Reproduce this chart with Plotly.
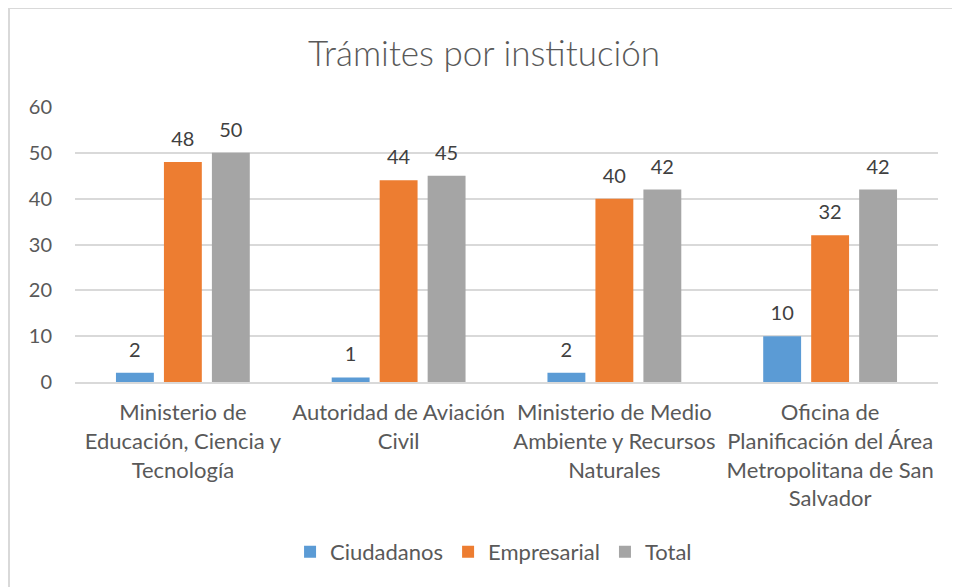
import plotly.graph_objects as go

categorias = [
    "Ministerio de<br>Educación, Ciencia y<br>Tecnología",
    "Autoridad de Aviación<br>Civil",
    "Ministerio de Medio<br>Ambiente y Recursos<br>Naturales",
    "Oficina de<br>Planificación del Área<br>Metropolitana de San<br>Salvador",
]
ciudadanos = [2, 1, 2, 10]
empresarial = [48, 44, 40, 32]
total = [50, 45, 42, 42]

series = [
    ("Ciudadanos", ciudadanos, "#5b9bd5"),
    ("Empresarial", empresarial, "#ed7d31"),
    ("Total", total, "#a5a5a5"),
]

FONT = "Lato, Open Sans, sans-serif"
GAP = 0.333

fig = go.Figure()
for nombre, valores, color in series:
    fig.add_trace(go.Bar(
        x=categorias, y=valores, name=nombre,
        marker=dict(color=color, line=dict(width=0)),
    ))

# value labels: grouped text-only scatters, the invisible marker lifts the text off the bar
for nombre, valores, color in series:
    fig.add_trace(go.Scatter(
        x=categorias, y=valores, mode="markers+text", showlegend=False,
        text=valores, textposition="top center", cliponaxis=False,
        marker=dict(size=16, opacity=0), hoverinfo="skip",
        textfont=dict(size=20, color="#404040", family=FONT),
    ))

# the page body has an 8px margin, so the figure is 8px smaller on each side
fig.update_layout(
    width=952, height=579,
    margin=dict(l=67, r=22, t=99, b=205),
    paper_bgcolor="white", plot_bgcolor="white",
    font=dict(family=FONT, color="#595959", size=20),
    title=dict(text="Trámites por institución", x=0.5, xanchor="center",
               y=0.921, yanchor="middle",
               font=dict(size=35, color="#595959", weight=300)),
    barmode="group", bargap=GAP, bargroupgap=0.21,
    scattermode="group", scattergap=GAP,
    showlegend=True,
    legend=dict(orientation="h", x=0.485, xanchor="center", y=-0.618, yanchor="middle",
                font=dict(size=22, color="#595959"), itemwidth=30, traceorder="normal"),
    xaxis=dict(showline=True, linecolor="#d9d9d9", linewidth=2, ticks="",
               tickfont=dict(size=22, color="#595959"), tickangle=0,
               ticklabelstandoff=10, automargin=False),
    yaxis=dict(range=[0, 60], dtick=10, showgrid=True, gridcolor="#d9d9d9", gridwidth=2,
               zeroline=False, ticks="", tickfont=dict(size=20, color="#595959"),
               ticklabelstandoff=22, automargin=False),
    shapes=[dict(type="rect", xref="paper", yref="paper",
                 x0=-0.0765, x1=1.2, y0=-0.9, y1=1.36,
                 line=dict(color="#d9d9d9", width=2), fillcolor="rgba(0,0,0,0)", layer="below")],
)

fig.write_html("out.html")
